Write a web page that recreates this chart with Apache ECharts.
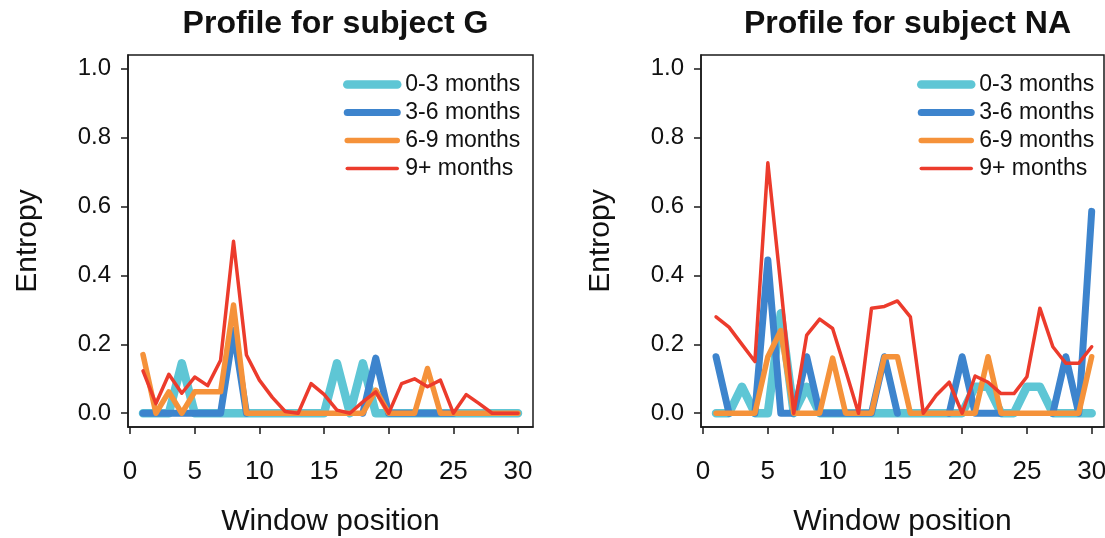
<!DOCTYPE html>
<html>
<head>
<meta charset="utf-8">
<script src="https://cdn.jsdelivr.net/npm/echarts@6/dist/echarts.min.js"></script>
<style>
html, body { margin: 0; padding: 0; background: #fff; }
#chart { width: 1105px; height: 538px; }
</style>
</head>
<body>
<div id="chart"></div>
<script>
// window positions and axis ticks
const windows = [1, 2, 3, 4, 5, 6, 7, 8, 9, 10, 11, 12, 13, 14, 15, 16, 17, 18, 19, 20, 21, 22, 23, 24, 25, 26, 27, 28, 29, 30]
const xTicks = [0, 5, 10, 15, 20, 25, 30]
const yTicks = [0, 0.2, 0.4, 0.6, 0.8, 1.0]
const groups = ['0-3 months', '3-6 months', '6-9 months', '9+ months']
const titles = ['Profile for subject G', 'Profile for subject NA']

// subject G (null = line not drawn at that window)
const g03 = [0, 0, 0, 0.145, 0, 0, 0, 0, 0, 0, 0, 0, 0, 0, 0, 0.145, 0, 0.145, 0, 0, 0, 0, 0, 0, 0, 0, 0, 0, 0, 0]
const g36 = [0, 0, 0, 0, 0, 0, 0, 0.24, 0, null, null, null, null, null, null, null, null, 0, 0.16, 0, 0, 0, 0, 0, 0, null, null, null, null, null]
const g69 = [0.17, 0, 0.062, 0, 0.062, 0.062, 0.062, 0.314, 0, 0, 0, 0, 0, 0, 0, 0, 0, 0, 0.067, 0, 0, 0, 0.13, 0, 0, 0, 0, 0, 0, 0]
const g9p = [0.123, 0.028, 0.113, 0.058, 0.105, 0.08, 0.154, 0.499, 0.169, 0.096, 0.046, 0.005, 0, 0.086, 0.055, 0.009, 0, 0.033, 0.062, 0, 0.086, 0.1, 0.077, 0.096, 0, 0.054, 0.028, 0, 0, 0]

// subject NA
const n03 = [0, 0, 0.077, 0, 0, 0.29, 0, 0.077, 0, 0, 0, 0, 0, 0, 0, 0, 0, 0, 0, 0, 0.077, 0.077, 0, 0, 0.077, 0.077, 0, 0, 0, 0]
const n36 = [0.164, 0, null, 0, 0.445, 0, 0, 0.164, 0, 0, 0, 0, 0, 0.164, 0, null, null, null, 0, 0.164, 0, 0, 0, null, null, null, 0, 0.164, 0, 0.586]
const n69 = [0, 0, 0, 0, 0.164, 0.24, 0, 0, 0, 0.16, 0, 0, 0, 0.164, 0.164, 0, 0, 0, 0, 0, 0, 0.164, 0, 0, 0, 0, 0, 0, 0, 0.164]
const n9p = [0.28, 0.25, 0.2, 0.15, 0.727, 0.37, 0, 0.227, 0.273, 0.246, 0.125, 0, 0.305, 0.31, 0.326, 0.28, 0, 0.052, 0.09, 0, 0.108, 0.09, 0.057, 0.057, 0.106, 0.305, 0.193, 0.145, 0.145, 0.193]

const colors = ['#5ec6d5', '#3d84cd', '#f5923a', '#ec3b2c']
const widths = [8.5, 7, 5.5, 3.5]
const font = "'Liberation Sans', Arial, sans-serif"
const ink = '#1a1a1a'

const chart = echarts.init(document.getElementById('chart'), null, {renderer: 'canvas'})

function pairs (vals) {
  return windows.map((w, i) => [w, vals[i]])
}

const panels = [
  {left: 128, width: 405, xMax: 31.16, legendLeft: 338, data: [g03, g36, g69, g9p]},
  {left: 701, width: 403, xMax: 30.95, legendLeft: 912, data: [n03, n36, n69, n9p]}
]

const grid = []
const xAxis = []
const yAxis = []
const series = []
const legend = []
const title = []

panels.forEach((p, k) => {
  grid.push({
    left: p.left, top: 55, width: p.width, height: 372,
    outerBoundsMode: 'none',
    show: true, borderColor: ink, borderWidth: 1.5, backgroundColor: 'transparent'
  })
  xAxis.push({
    type: 'value', gridIndex: k, min: -0.16, max: p.xMax,
    name: 'Window position', nameLocation: 'middle', nameGap: 80,
    nameTextStyle: {fontSize: 30, color: '#111', fontFamily: font},
    axisLine: {show: true, onZero: false, lineStyle: {color: ink, width: 1.5}},
    axisTick: {show: true, inside: false, length: 7, customValues: xTicks, lineStyle: {color: ink, width: 1.5}},
    axisLabel: {customValues: xTicks, margin: 32, fontSize: 26, color: '#111', fontFamily: font},
    splitLine: {show: false}
  })
  yAxis.push({
    type: 'value', gridIndex: k, min: -0.04, max: 1.04,
    name: 'Entropy', nameLocation: 'middle', nameGap: 85,
    nameTextStyle: {fontSize: 30, color: '#111', fontFamily: font},
    axisLine: {show: true, onZero: false, lineStyle: {color: ink, width: 1.5}},
    axisTick: {show: true, inside: false, length: 7, customValues: yTicks, lineStyle: {color: ink, width: 1.5}},
    axisLabel: {customValues: yTicks, margin: 17, fontSize: 24, color: '#111', fontFamily: font,
      formatter: v => v.toFixed(1)},
    splitLine: {show: false}
  })
  p.data.forEach((vals, j) => {
    series.push({
      type: 'line', name: groups[j], xAxisIndex: k, yAxisIndex: k,
      data: pairs(vals), symbol: 'none', clip: false, z: 2 + j,
      lineStyle: {color: colors[j], width: widths[j], cap: 'round', join: 'round'},
      itemStyle: {color: colors[j]}
    })
  })
  legend.push({
    orient: 'vertical', left: p.legendLeft, top: 68, itemGap: 5,
    itemWidth: 50, itemHeight: 14,
    textStyle: {fontSize: 23, lineHeight: 23, color: '#111', fontFamily: font, padding: [0, 0, 0, 3]},
    data: groups.map((g, j) => ({
      name: g,
      itemStyle: {color: 'rgba(0,0,0,0)', borderWidth: 0},
      lineStyle: {width: widths[j], color: colors[j], cap: 'round'}
    }))
  })
  title.push({
    text: titles[k], left: p.left + p.width / 2, top: 3, textAlign: 'center',
    textStyle: {fontSize: 32, fontWeight: 'bold', color: '#111', fontFamily: font}
  })
})

chart.setOption({
  animation: false,
  title: title,
  legend: legend,
  grid: grid,
  xAxis: xAxis,
  yAxis: yAxis,
  series: series
})
</script>
</body>
</html>
